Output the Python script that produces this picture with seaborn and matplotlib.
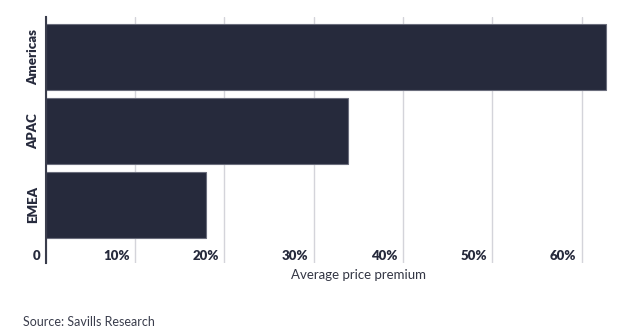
import matplotlib
matplotlib.use("Agg")
import matplotlib.pyplot as plt
import matplotlib.transforms as mtransforms
import seaborn as sns
import pandas as pd

regions = ["Americas", "APAC", "EMEA"]
premium = [0.627, 0.338, 0.180]
xticks = [0.0, 0.1, 0.2, 0.3, 0.4, 0.5, 0.6]
xtick_labels = ["0", "10%", "20%", "30%", "40%", "50%", "60%"]

sns.set_theme(style="white")
plt.rcParams["font.family"] = ["Lato", "DejaVu Sans"]

df = pd.DataFrame({"region": regions, "premium": premium})

fig = plt.figure(figsize=(6.26, 3.29), dpi=100)
ax = fig.add_axes([0.0730, 0.1997, 0.9273, 0.7495])

sns.barplot(data=df, y="region", x="premium", orient="h", color="#262a3c",
            saturation=1, width=0.9, edgecolor="#6a6d7c", linewidth=0.8, ax=ax, zorder=3)

ax.set_xlim(0, 0.65)
ax.set_ylim(2.795, -0.55)

ax.set_xticks(xticks)
ax.set_xticklabels([])
ax.tick_params(axis="x", length=0)
offset = mtransforms.ScaledTranslation(-5 / 100, 1 / 100, fig.dpi_scale_trans)
for xv, lab in zip(xticks, xtick_labels):
    ax.text(xv, 0.0, lab, transform=ax.get_xaxis_transform() + offset,
            ha="right", va="bottom", fontsize=9.5, fontweight="heavy", color="#262a3c")

for lab in ax.get_yticklabels():
    lab.set_rotation(90)
    lab.set_va("center")
    lab.set_fontweight("heavy")
    lab.set_fontsize(9.5)
    lab.set_color("#262a3c")
ax.tick_params(axis="y", length=0, pad=4.5)

ax.grid(axis="x", color="#d4d4da", linewidth=1.0, zorder=0)
ax.grid(axis="y", visible=False)
for s in ["top", "right", "bottom"]:
    ax.spines[s].set_visible(False)
ax.spines["left"].set_color("#3a3d4c")
ax.spines["left"].set_linewidth(1.5)
ax.spines["left"].set_zorder(4)

ax.set_ylabel("")
ax.set_xlabel("Average price premium", fontsize=9.5, color="#333644")
ax.xaxis.set_label_coords(0.538, -0.047)
ax.xaxis.label.set_va("center")

fig.text(23 / 626, 1 - 321.7 / 329, "Source: Savills Research", fontsize=9,
         color="#3a3d4c", va="center", ha="left")

fig.savefig("out.png", dpi=100)
